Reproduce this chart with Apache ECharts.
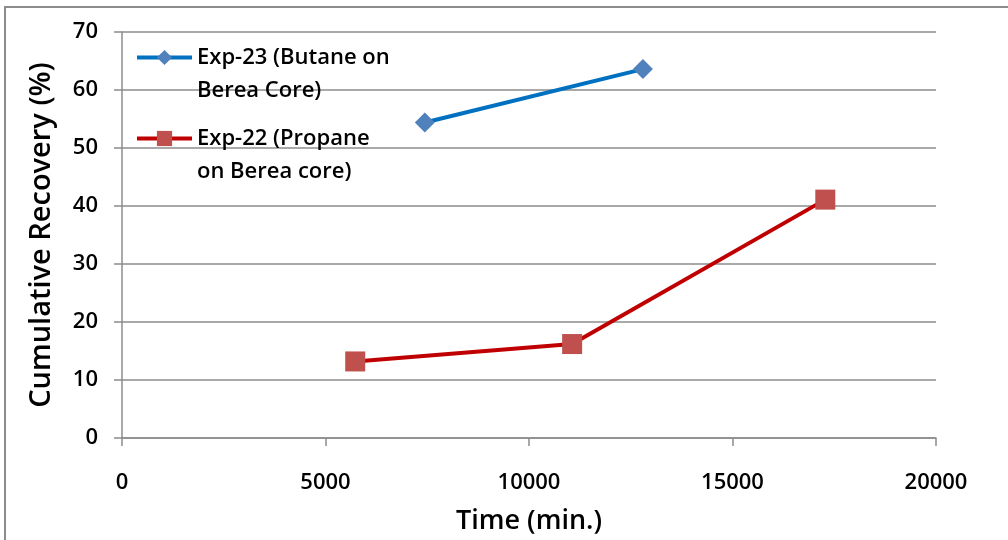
<!DOCTYPE html>
<html>
<head>
<meta charset="utf-8">
<script src="https://cdn.jsdelivr.net/npm/echarts@6/dist/echarts.min.js"></script>
<style>
  html, body { margin: 0; padding: 0; background: #ffffff; overflow: hidden; }
  #chart { width: 1008px; height: 540px; }
</style>
</head>
<body>
<div id="chart"></div>
<script>
// Cumulative recovery over time for two solvent-injection experiments
const butaneName = 'Exp-23 (Butane on\nBerea Core)';
const propaneName = 'Exp-22 (Propane\non Berea core)';

const butaneTime = [7440, 12800];
const butaneRecovery = [54.4, 63.6];

const propaneTime = [5730, 11060, 17280];
const propaneRecovery = [13.2, 16.2, 41.1];

const xTicks = [0, 5000, 10000, 15000, 20000];
const yTicks = [0, 10, 20, 30, 40, 50, 60, 70];

const FONT = '"Open Sans", "Liberation Sans", sans-serif';

const pairs = (xs, ys) => xs.map((x, i) => [x, ys[i]]);

// One legend block per series so each entry can sit at its own height;
// a leading empty line keeps the marker level with the first text line.
const legendBlock = (name, top) => ({
  orient: 'vertical',
  left: 135,
  top: top,
  padding: 0,
  itemWidth: 55,
  itemHeight: 19,
  data: [name],
  formatter: n => '\n' + n,
  lineStyle: { width: 4 },
  textStyle: {
    fontFamily: FONT,
    fontSize: 22,
    fontWeight: 600,
    color: '#000000',
    lineHeight: 33
  }
});

const chart = echarts.init(document.getElementById('chart'), null, { renderer: 'canvas' });

chart.setOption({
  animation: false,
  backgroundColor: '#ffffff',
  grid: { left: 122, width: 814, top: 32, height: 407, containLabel: false },
  graphic: [{
    type: 'rect',
    shape: { x: 5, y: 7, width: 1100, height: 600 },
    style: { fill: 'none', stroke: '#8c8c8c', lineWidth: 2 },
    silent: true
  }],
  legend: [legendBlock(butaneName, 8), legendBlock(propaneName, 89)],
  xAxis: {
    type: 'value',
    min: xTicks[0],
    max: xTicks[xTicks.length - 1],
    interval: 5000,
    name: 'Time (min.)',
    nameLocation: 'middle',
    nameGap: 70,
    nameTextStyle: { fontFamily: FONT, fontSize: 27, fontWeight: 600, color: '#000' },
    axisLine: { show: true, onZero: false, lineStyle: { color: '#8c8c8c', width: 1.5 } },
    axisTick: { show: true, inside: false, length: 8, lineStyle: { color: '#8c8c8c', width: 1.5 } },
    axisLabel: {
      margin: 34, fontFamily: FONT, fontSize: 22, fontWeight: 600, color: '#000',
      formatter: v => String(v)
    },
    splitLine: { show: false }
  },
  yAxis: {
    type: 'value',
    min: yTicks[0],
    max: yTicks[yTicks.length - 1],
    interval: 10,
    name: 'Cumulative Recovery (%)',
    nameLocation: 'middle',
    nameGap: 66,
    nameRotate: 90,
    nameTextStyle: { fontFamily: FONT, fontSize: 29, fontWeight: 600, color: '#000' },
    axisLine: { show: true, lineStyle: { color: '#8c8c8c', width: 1.5 } },
    axisTick: { show: true, inside: false, length: 8, lineStyle: { color: '#8c8c8c', width: 1.5 } },
    axisLabel: {
      margin: 24, fontFamily: FONT, fontSize: 22, fontWeight: 600, color: '#000',
      formatter: v => String(v)
    },
    splitLine: { show: true, lineStyle: { color: '#8c8c8c', width: 1.5 } }
  },
  series: [
    {
      name: butaneName,
      type: 'line',
      data: pairs(butaneTime, butaneRecovery),
      symbol: 'diamond',
      symbolSize: 20,
      lineStyle: { color: '#0070C0', width: 4 },
      itemStyle: { color: '#4F81BD' },
      z: 3
    },
    {
      name: propaneName,
      type: 'line',
      data: pairs(propaneTime, propaneRecovery),
      symbol: 'rect',
      symbolSize: 20,
      lineStyle: { color: '#C00000', width: 4 },
      itemStyle: { color: '#C0504D' },
      z: 3
    }
  ]
});
</script>
</body>
</html>
